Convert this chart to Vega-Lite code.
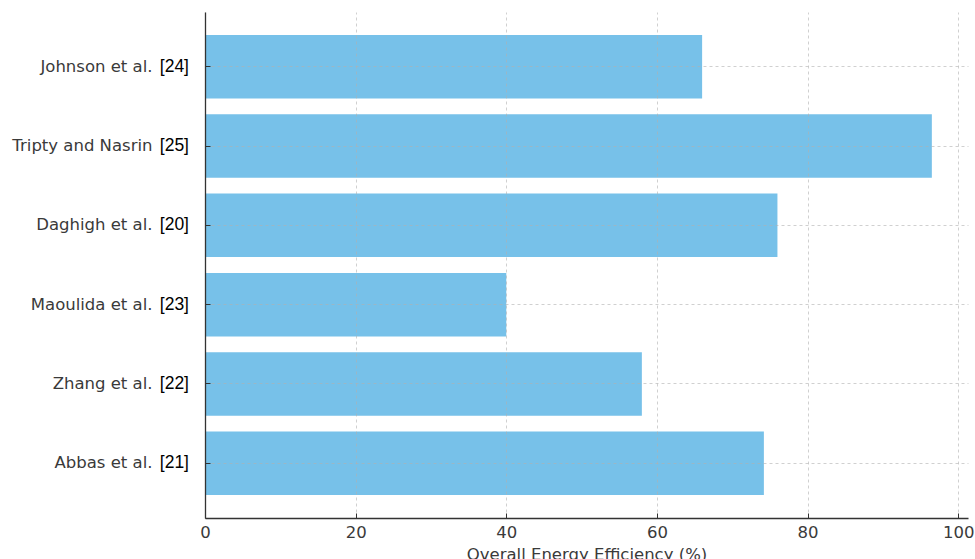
{
  "$schema": "https://vega.github.io/schema/vega-lite/v6.json",
  "width": 763,
  "height": 506,
  "autosize": {"type": "none"},
  "padding": {"left": 205, "top": 12, "right": 7, "bottom": 41},
  "background": "white",
  "config": {"view": {"stroke": null}},
  "data": {
    "values": [
      {"study": "Johnson et al.", "ref": "[24]", "eff": 66.0},
      {"study": "Tripty and Nasrin", "ref": "[25]", "eff": 96.5},
      {"study": "Daghigh et al.", "ref": "[20]", "eff": 76.0},
      {"study": "Maoulida et al.", "ref": "[23]", "eff": 40.0},
      {"study": "Zhang et al.", "ref": "[22]", "eff": 58.0},
      {"study": "Abbas et al.", "ref": "[21]", "eff": 74.2}
    ]
  },
  "encoding": {
    "y": {
      "field": "study",
      "type": "nominal",
      "sort": null,
      "scale": {"paddingInner": 0.2, "paddingOuter": 0.29},
      "axis": {
        "title": null,
        "bandPosition": 0.5,
        "labelFont": "DejaVu Sans",
        "labelFontSize": 16.5,
        "labelColor": "#3a3a3a",
        "labelPadding": 58,
        "tickSize": -5,
        "tickColor": "#333333",
        "domainColor": "#333333",
        "domainWidth": 1.3,
        "grid": true,
        "gridColor": "#b0b0b0",
        "gridDash": [3, 3],
        "gridOpacity": 0.6,
        "zindex": 1
      }
    }
  },
  "layer": [
    {
      "mark": {"type": "bar", "color": "#77C1E9"},
      "encoding": {
        "x": {
          "field": "eff",
          "type": "quantitative",
          "title": "Overall Energy Efficiency (%)",
          "scale": {"domain": [0, 101.3], "nice": false, "zero": true},
          "axis": {
            "values": [0, 20, 40, 60, 80, 100],
            "labelFlush": false,
            "labelFont": "DejaVu Sans",
            "labelFontSize": 16.5,
            "labelColor": "#3a3a3a",
            "labelPadding": 11,
            "tickSize": -5,
            "tickColor": "#333333",
            "domainColor": "#333333",
            "domainWidth": 1.3,
            "titleFont": "DejaVu Sans",
            "titleFontSize": 16.5,
            "titleFontWeight": "normal",
            "titleColor": "#3a3a3a",
            "titlePadding": 6,
            "grid": true,
            "gridColor": "#b0b0b0",
            "gridDash": [3, 3],
            "gridOpacity": 0.6,
            "zindex": 1
          }
        }
      }
    },
    {
      "mark": {
        "type": "text",
        "align": "right",
        "baseline": "middle",
        "dx": -16,
        "font": "Liberation Sans",
        "fontSize": 17.5,
        "color": "#000000"
      },
      "encoding": {
        "x": {"datum": 0, "type": "quantitative", "title": "Overall Energy Efficiency (%)"},
        "text": {"field": "ref"}
      }
    }
  ]
}
